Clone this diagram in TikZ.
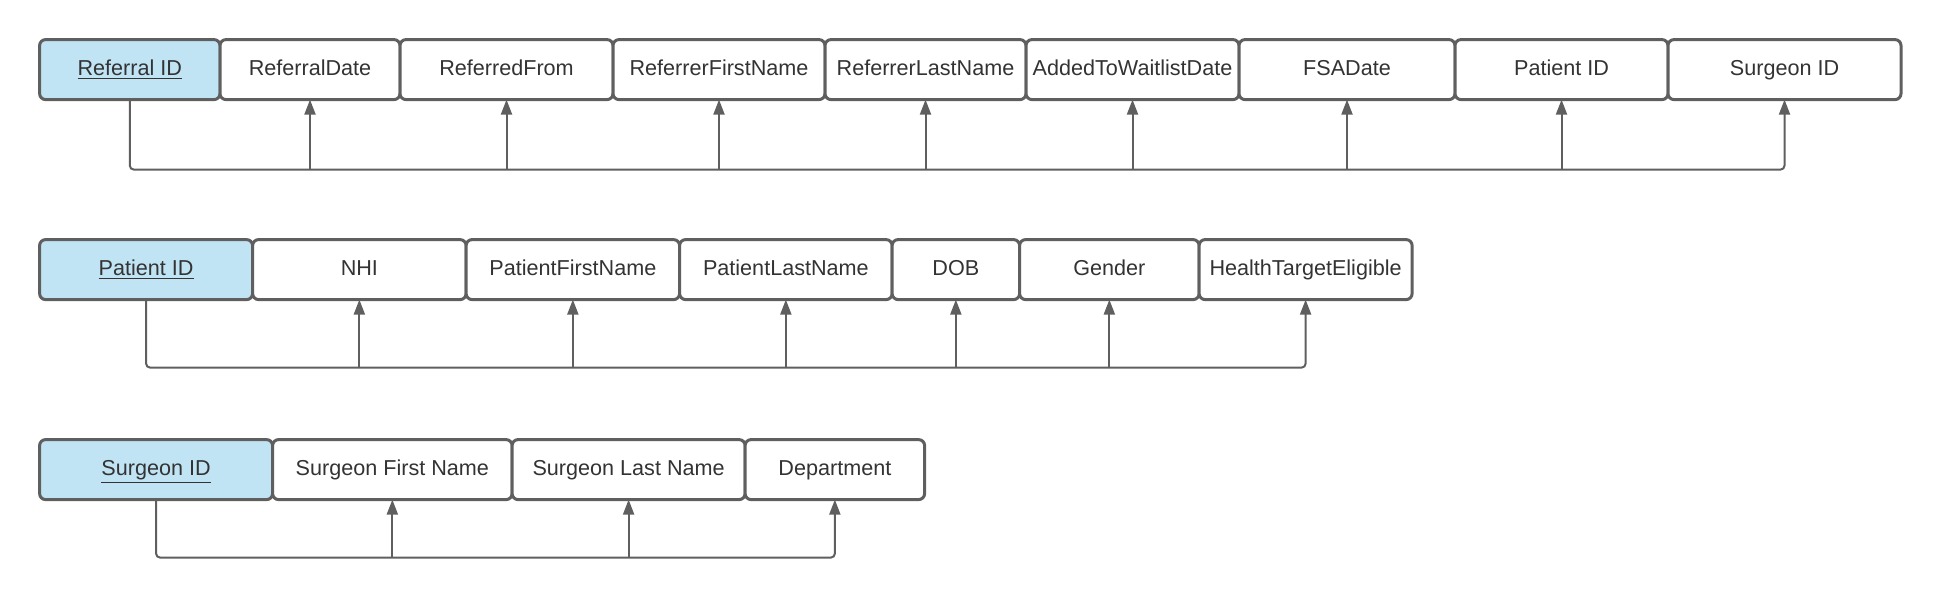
\documentclass[tikz,border=0pt]{standalone}
\usepackage{fontspec}
\setmainfont{Liberation Sans}
\usepackage{xcolor}
\usetikzlibrary{positioning, arrows.meta}

\definecolor{LineGray}{HTML}{5F5F5F}
\definecolor{TextGray}{HTML}{333333}
\definecolor{KeyBlue}{HTML}{C1E4F5}

\begin{document}
\begin{tikzpicture}[
	FieldNode/.style={rectangle, draw=LineGray, fill=white, line width=1.5pt, rounded corners=3pt, minimum height=30pt, inner sep=0pt, outer sep=0pt, text height=7.7pt, text depth=2pt, text=TextGray, font=\fontsize{10.8pt}{13pt}\selectfont},
	KeyNode/.style={FieldNode, fill=KeyBlue},
	Link/.style={draw=LineGray, line width=1pt, rounded corners=2pt, -{Triangle[length=7.5pt, width=5.5pt]}}]

	\useasboundingbox (0,0) rectangle (971pt,-299.5pt);

	% Nodes
	\node[KeyNode, minimum width=90.2pt, anchor=north west] (RefKey) at (19.8pt,-19.8pt) {\underline{Referral ID}};
	\node[FieldNode, minimum width=90pt, right=0pt of RefKey] (RefDate) {ReferralDate};
	\node[FieldNode, minimum width=106.5pt, right=0pt of RefDate] (RefFrom) {ReferredFrom};
	\node[FieldNode, minimum width=106pt, right=0pt of RefFrom] (RefFirst) {ReferrerFirstName};
	\node[FieldNode, minimum width=100.5pt, right=0pt of RefFirst] (RefLast) {ReferrerLastName};
	\node[FieldNode, minimum width=106.5pt, right=0pt of RefLast] (RefWait) {AddedToWaitlistDate};
	\node[FieldNode, minimum width=108pt, right=0pt of RefWait] (RefFSA) {FSADate};
	\node[FieldNode, minimum width=106.5pt, right=0pt of RefFSA] (RefPat) {Patient ID};
	\node[FieldNode, minimum width=116.5pt, right=0pt of RefPat] (RefSur) {Surgeon ID};

	\node[KeyNode, minimum width=106.5pt, below=70pt of RefKey.south west, anchor=north west] (PatKey) {\underline{Patient ID}};
	\node[FieldNode, minimum width=106.75pt, right=0pt of PatKey] (PatNHI) {NHI};
	\node[FieldNode, minimum width=106.75pt, right=0pt of PatNHI] (PatFirst) {PatientFirstName};
	\node[FieldNode, minimum width=106.25pt, right=0pt of PatFirst] (PatLast) {PatientLastName};
	\node[FieldNode, minimum width=63.75pt, right=0pt of PatLast] (PatDOB) {DOB};
	\node[FieldNode, minimum width=89.75pt, right=0pt of PatDOB] (PatGender) {Gender};
	\node[FieldNode, minimum width=106.5pt, right=0pt of PatGender] (PatHealth) {HealthTargetEligible};

	\node[KeyNode, minimum width=116.5pt, below=70pt of PatKey.south west, anchor=north west] (SurKey) {\underline{Surgeon ID}};
	\node[FieldNode, minimum width=119.75pt, right=0pt of SurKey] (SurFirst) {Surgeon First Name};
	\node[FieldNode, minimum width=116.5pt, right=0pt of SurFirst] (SurLast) {Surgeon Last Name};
	\node[FieldNode, minimum width=89.75pt, right=0pt of SurLast] (SurDept) {Department};

	\coordinate (RefBar) at ([yshift=-35pt]RefKey.south);
	\coordinate (PatBar) at ([yshift=-34pt]PatKey.south);
	\coordinate (SurBar) at ([yshift=-29pt]SurKey.south);

	% Lines
	\draw[Link] (RefKey.south) |- (RefBar -| RefSur.south) -- (RefSur.south);
	\draw[Link] (RefBar -| RefDate.south) -- (RefDate.south);
	\draw[Link] (RefBar -| RefFrom.south) -- (RefFrom.south);
	\draw[Link] (RefBar -| RefFirst.south) -- (RefFirst.south);
	\draw[Link] (RefBar -| RefLast.south) -- (RefLast.south);
	\draw[Link] (RefBar -| RefWait.south) -- (RefWait.south);
	\draw[Link] (RefBar -| RefFSA.south) -- (RefFSA.south);
	\draw[Link] (RefBar -| RefPat.south) -- (RefPat.south);

	\draw[Link] (PatKey.south) |- (PatBar -| PatHealth.south) -- (PatHealth.south);
	\draw[Link] (PatBar -| PatNHI.south) -- (PatNHI.south);
	\draw[Link] (PatBar -| PatFirst.south) -- (PatFirst.south);
	\draw[Link] (PatBar -| PatLast.south) -- (PatLast.south);
	\draw[Link] (PatBar -| PatDOB.south) -- (PatDOB.south);
	\draw[Link] (PatBar -| PatGender.south) -- (PatGender.south);

	\draw[Link] (SurKey.south) |- (SurBar -| SurDept.south) -- (SurDept.south);
	\draw[Link] (SurBar -| SurFirst.south) -- (SurFirst.south);
	\draw[Link] (SurBar -| SurLast.south) -- (SurLast.south);
\end{tikzpicture}
\end{document}
